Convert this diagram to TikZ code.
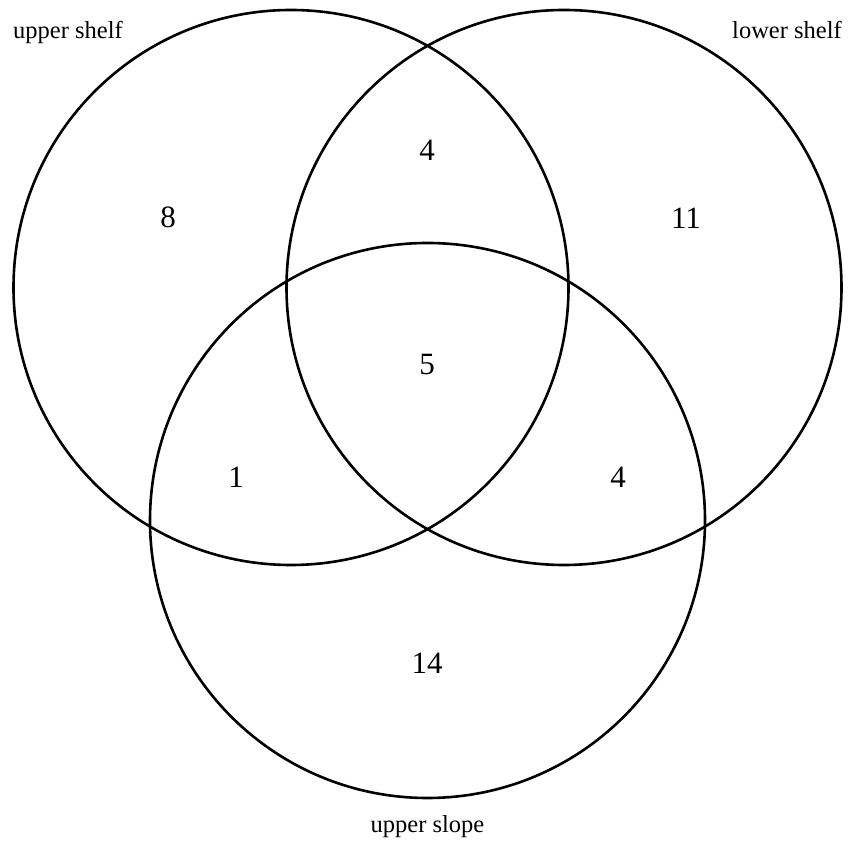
\documentclass[tikz,border=0pt]{standalone}
\usepackage{fontspec}
\setmainfont{Liberation Serif}
\usepackage{tikz}

\begin{document}
\begin{tikzpicture}[
    x=1pt,y=1pt,
    ring/.style={draw=black,line width=2.6pt},
    cnt/.style={font=\fontsize{31}{34}\selectfont,inner sep=0pt},
    setlab/.style={font=\fontsize{24.5}{28}\selectfont,inner sep=0pt,anchor=base}
]
\useasboundingbox (0,0) rectangle (859,843);

% the three sets
\draw[ring] (291,555.5) circle[radius=277.5];
\draw[ring] (564,555.5) circle[radius=277.5];
\draw[ring] (427.5,322.5) circle[radius=277.5];

% set names
\node[setlab] (us) at (68,804) {upper shelf};
\node[setlab] (ls) at (787,804) {lower shelf};
\node[setlab] (sl) at (427.5,10) {upper slope};

% counts per region
\node[cnt] (nA)   at (168,626)   {8};
\node[cnt] (nB)   at (686,625)   {11};
\node[cnt] (nC)   at (427,180)   {14};
\node[cnt] (nAB)  at (427,693)   {4};
\node[cnt] (nAC)  at (236,366)   {1};
\node[cnt] (nBC)  at (618,366)   {4};
\node[cnt] (nABC) at (427,478)   {5};

\end{tikzpicture}
\end{document}
